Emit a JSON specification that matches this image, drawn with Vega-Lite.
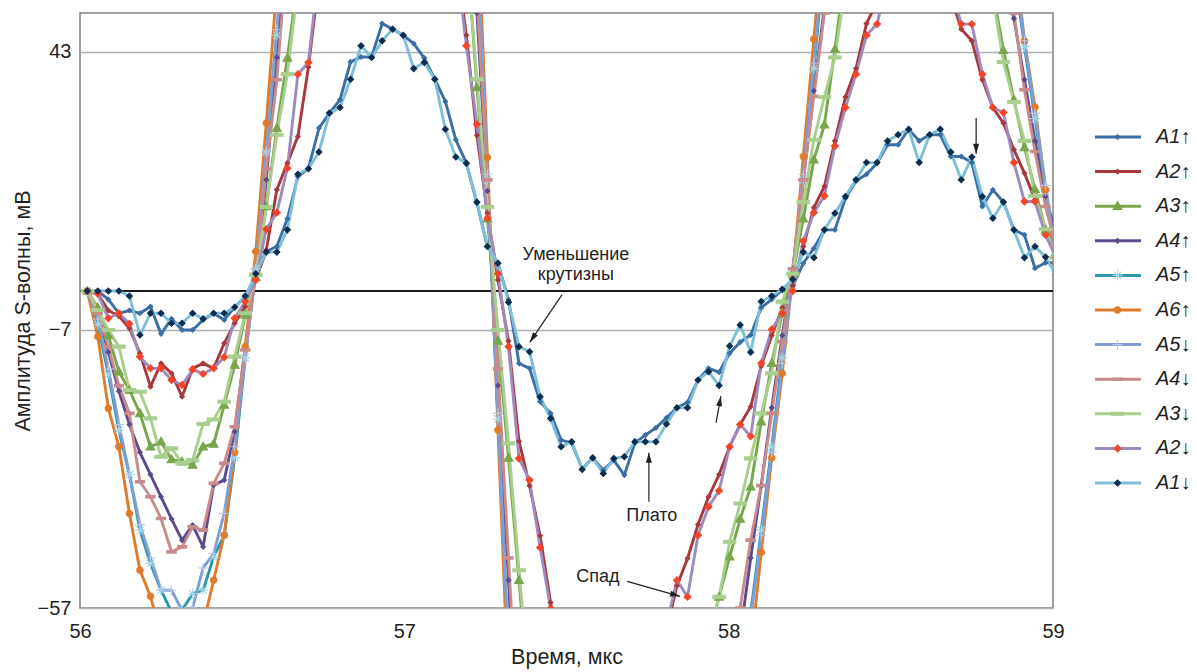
{
"$schema": "https://vega.github.io/schema/vega-lite/v6.json",
"width": 973, "height": 595,
"autosize": {"type": "none"},
"padding": {"left": 80, "top": 13, "right": 144, "bottom": 64},
"background": "white",
"config": {
  "view": {"stroke": "#808080", "strokeWidth": 1.5},
  "font": "Liberation Sans",
  "axis": {"labelFont": "Liberation Sans", "titleFont": "Liberation Sans", "labelFontSize": 20, "titleFontSize": 21.5, "titleFontWeight": "normal", "labelColor": "#231f20", "titleColor": "#231f20"}
},
"datasets": {
"w": [
{"t":56.0225,"A1↑":0,"A2↑":0,"A3↑":0,"A4↑":0,"A5↑":0,"A6↑":0,"A5↓":0,"A4↓":0,"A3↓":0,"A2↓":0,"A1↓":0},
{"t":56.055,"A1↑":0,"A2↑":-0.5,"A3↑":-3,"A4↑":-4,"A5↑":-6,"A6↑":-8.2,"A5↓":-5,"A4↓":-4,"A3↓":-3.4,"A2↓":-0.5,"A1↓":0},
{"t":56.0874,"A1↑":-1.5,"A2↑":-3.5,"A3↑":-8,"A4↑":-11,"A5↑":-15,"A6↑":-21.1,"A5↓":-14,"A4↓":-10,"A3↓":-7,"A2↓":-4.9,"A1↓":0},
{"t":56.1199,"A1↑":-4,"A2↑":-4.5,"A3↑":-14.5,"A4↑":-18,"A5↑":-25,"A6↑":-28,"A5↓":-24,"A4↓":-17,"A3↓":-10,"A2↓":-4,"A1↓":0},
{"t":56.1524,"A1↑":-3.5,"A2↑":-6.7,"A3↑":-17.8,"A4↑":-24,"A5↑":-33,"A6↑":-40,"A5↓":-33,"A4↓":-22,"A3↓":-17.8,"A2↓":-5.9,"A1↓":-0.9},
{"t":56.1848,"A1↑":-4,"A2↑":-11.2,"A3↑":-22,"A4↑":-29,"A5↑":-43,"A6↑":-50.2,"A5↓":-42,"A4↓":-34.3,"A3↓":-18.1,"A2↓":-11.8,"A1↓":-7.9},
{"t":56.2173,"A1↑":-2.8,"A2↑":-17.2,"A3↑":-28,"A4↑":-33,"A5↑":-49,"A6↑":-54.9,"A5↓":-48,"A4↓":-37,"A3↓":-22.9,"A2↓":-13.9,"A1↓":-4},
{"t":56.2498,"A1↑":-7.7,"A2↑":-13,"A3↑":-27.1,"A4↑":-37,"A5↑":-53.8,"A6↑":-62,"A5↓":-53.8,"A4↓":-40.9,"A3↓":-29.8,"A2↓":-13.9,"A1↓":-4},
{"t":56.2822,"A1↑":-5,"A2↑":-14.8,"A3↑":-30.3,"A4↑":-41,"A5↑":-57.7,"A6↑":-66,"A5↓":-53.8,"A4↓":-46.9,"A3↓":-28.3,"A2↓":-16,"A1↓":-5.8},
{"t":56.3147,"A1↑":-7,"A2↑":-19,"A3↑":-30.7,"A4↑":-44.8,"A5↑":-57.4,"A6↑":-68,"A5↓":-57.4,"A4↓":-46,"A3↓":-30.9,"A2↓":-16.9,"A1↓":-5.8},
{"t":56.3472,"A1↑":-7,"A2↑":-13.9,"A3↑":-31.3,"A4↑":-42.1,"A5↑":-54.4,"A6↑":-66,"A5↓":-57,"A4↓":-42.4,"A3↓":-30.4,"A2↓":-14.1,"A1↓":-4},
{"t":56.3796,"A1↑":-5.2,"A2↑":-13,"A3↑":-28,"A4↑":-46,"A5↑":-53.8,"A6↑":-60,"A5↓":-49.8,"A4↓":-43,"A3↓":-23.9,"A2↓":-14.9,"A1↓":-5},
{"t":56.4121,"A1↑":-4,"A2↑":-13.9,"A3↑":-27.5,"A4↑":-34.9,"A5↑":-47.8,"A6↑":-52,"A5↓":-47.2,"A4↓":-34.6,"A3↓":-23.1,"A2↓":-13.9,"A1↓":-4},
{"t":56.4446,"A1↑":-5.2,"A2↑":-9.4,"A3↑":-20.5,"A4↑":-34,"A5↑":-44,"A6↑":-43.9,"A5↓":-40,"A4↓":-31,"A3↓":-19.9,"A2↓":-11.9,"A1↓":-4},
{"t":56.477,"A1↑":-2.9,"A2↑":-5.8,"A3↑":-13.3,"A4↑":-25.3,"A5↑":-30,"A6↑":-29,"A5↓":-28,"A4↓":-24.4,"A3↓":-11.8,"A2↓":-4.9,"A1↓":-2.9},
{"t":56.5095,"A1↑":-1,"A2↑":-2.8,"A3↑":-4.3,"A4↑":-10,"A5↑":-12,"A6↑":-10,"A5↓":-12,"A4↓":-10.6,"A3↓":-4,"A2↓":-1.9,"A1↓":-0.9},
{"t":56.542,"A1↑":2.5,"A2↑":2,"A3↑":2.5,"A4↑":3,"A5↑":4,"A6↑":7.1,"A5↓":4,"A4↓":3,"A3↓":2.9,"A2↓":2,"A1↓":3.1},
{"t":56.5744,"A1↑":7.1,"A2↑":7.4,"A3↑":15.2,"A4↑":20,"A5↑":25,"A6↑":30.2,"A5↓":25,"A4↓":22,"A3↓":15.1,"A2↓":11.1,"A1↓":7},
{"t":56.6069,"A1↑":8,"A2↑":18.2,"A3↑":29.3,"A4↑":42,"A5↑":46,"A6↑":55,"A5↓":47,"A4↓":38,"A3↓":28.1,"A2↓":14.1,"A1↓":7},
{"t":56.6394,"A1↑":13,"A2↑":23,"A3↑":41.9,"A4↑":62,"A5↑":70,"A6↑":80,"A5↓":70,"A4↓":62,"A3↓":39,"A2↓":22.1,"A1↓":11},
{"t":56.6718,"A1↑":20.6,"A2↑":27.8,"A3↑":56,"A4↑":82,"A5↑":93,"A6↑":105,"A5↓":93,"A4↓":82,"A3↓":55,"A2↓":39,"A1↓":21},
{"t":56.7043,"A1↑":22,"A2↑":40.3,"A3↑":70,"A4↑":100,"A5↑":115,"A6↑":128,"A5↓":115,"A4↓":100,"A3↓":69,"A2↓":41.1,"A1↓":22},
{"t":56.7368,"A1↑":29.3,"A2↑":56,"A3↑":84,"A4↑":117,"A5↑":135,"A6↑":149,"A5↓":135,"A4↓":117,"A3↓":83,"A2↓":58,"A1↓":25},
{"t":56.7692,"A1↑":32,"A2↑":65,"A3↑":97,"A4↑":132,"A5↑":152,"A6↑":167,"A5↓":152,"A4↓":132,"A3↓":96,"A2↓":68,"A1↓":32},
{"t":56.8017,"A1↑":34.4,"A2↑":72,"A3↑":108,"A4↑":145,"A5↑":167,"A6↑":183,"A5↓":167,"A4↓":145,"A3↓":107,"A2↓":75,"A1↓":33},
{"t":56.8342,"A1↑":41.2,"A2↑":80,"A3↑":118,"A4↑":156,"A5↑":180,"A6↑":196,"A5↓":180,"A4↓":156,"A3↓":117,"A2↓":82,"A1↓":38.1},
{"t":56.8666,"A1↑":42.1,"A2↑":86,"A3↑":126,"A4↑":165,"A5↑":190,"A6↑":206,"A5↓":190,"A4↓":165,"A3↓":125,"A2↓":88,"A1↓":44.1},
{"t":56.8991,"A1↑":42.1,"A2↑":90,"A3↑":132,"A4↑":172,"A5↑":197,"A6↑":213,"A5↓":197,"A4↓":172,"A3↓":131,"A2↓":92,"A1↓":42},
{"t":56.9316,"A1↑":48.1,"A2↑":94,"A3↑":136,"A4↑":176,"A5↑":201,"A6↑":217,"A5↓":201,"A4↓":176,"A3↓":135,"A2↓":95,"A1↓":45},
{"t":56.964,"A1↑":47.1,"A2↑":95,"A3↑":137,"A4↑":177,"A5↑":202,"A6↑":218,"A5↓":202,"A4↓":177,"A3↓":136,"A2↓":96,"A1↓":47.1},
{"t":56.9965,"A1↑":46,"A2↑":93,"A3↑":135,"A4↑":175,"A5↑":199,"A6↑":215,"A5↓":199,"A4↓":175,"A3↓":134,"A2↓":94,"A1↓":46},
{"t":57.029,"A1↑":44.5,"A2↑":88,"A3↑":130,"A4↑":170,"A5↑":193,"A6↑":208,"A5↓":193,"A4↓":170,"A3↓":129,"A2↓":89,"A1↓":40},
{"t":57.0614,"A1↑":41.9,"A2↑":82,"A3↑":122,"A4↑":161,"A5↑":183,"A6↑":197,"A5↓":183,"A4↓":161,"A3↓":121,"A2↓":83,"A1↓":41.1},
{"t":57.0939,"A1↑":38.1,"A2↑":75,"A3↑":112,"A4↑":150,"A5↑":170,"A6↑":182,"A5↓":170,"A4↓":150,"A3↓":111,"A2↓":77,"A1↓":38.1},
{"t":57.1264,"A1↑":34.1,"A2↑":68,"A3↑":100,"A4↑":136,"A5↑":153,"A6↑":163,"A5↓":154,"A4↓":136,"A3↓":99,"A2↓":70,"A1↓":29.1},
{"t":57.1588,"A1↑":27.2,"A2↑":60,"A3↑":88,"A4↑":118,"A5↑":132,"A6↑":141,"A5↓":133,"A4↓":120,"A3↓":86,"A2↓":60,"A1↓":24.1},
{"t":57.1913,"A1↑":23,"A2↑":46,"A3↑":63,"A4↑":85,"A5↑":105,"A6↑":115,"A5↓":106,"A4↓":88,"A3↓":62,"A2↓":44.1,"A1↓":23},
{"t":57.2238,"A1↑":15.8,"A2↑":28,"A3↑":36.6,"A4↑":50,"A5↑":63,"A6↑":70,"A5↓":64,"A4↓":53,"A3↓":38.1,"A2↓":30,"A1↓":16},
{"t":57.2562,"A1↑":8,"A2↑":14,"A3↑":13,"A4↑":18,"A5↑":20,"A6↑":24,"A5↓":21,"A4↓":20,"A3↓":15.1,"A2↓":13.1,"A1↓":8},
{"t":57.2887,"A1↑":5,"A2↑":2,"A3↑":-9,"A4↑":-17,"A5↑":-23,"A6↑":-25,"A5↓":-22,"A4↓":-14,"A3↓":-7,"A2↓":3.1,"A1↓":5},
{"t":57.3212,"A1↑":-1.6,"A2↑":-9,"A3↑":-30,"A4↑":-52,"A5↑":-66,"A6↑":-72,"A5↓":-65,"A4↓":-48,"A3↓":-27.4,"A2↓":-10,"A1↓":-2},
{"t":57.3536,"A1↑":-13,"A2↑":-27,"A3↑":-52,"A4↑":-87,"A5↑":-105,"A6↑":-113,"A5↓":-104,"A4↓":-82,"A3↓":-50.2,"A2↓":-30.1,"A1↓":-10},
{"t":57.3861,"A1↑":-13.9,"A2↑":-35,"A3↑":-75,"A4↑":-112,"A5↑":-135,"A6↑":-145,"A5↓":-134,"A4↓":-110,"A3↓":-72,"A2↓":-34,"A1↓":-10.9},
{"t":57.4186,"A1↑":-19.9,"A2↑":-44,"A3↑":-88,"A4↑":-130,"A5↑":-158,"A6↑":-170,"A5↓":-157,"A4↓":-128,"A3↓":-86,"A2↓":-46.1,"A1↓":-19},
{"t":57.451,"A1↑":-22,"A2↑":-56,"A3↑":-98,"A4↑":-144,"A5↑":-175,"A6↑":-188,"A5↓":-174,"A4↓":-142,"A3↓":-97,"A2↓":-57.1,"A1↓":-22.9},
{"t":57.4835,"A1↑":-26.8,"A2↑":-68,"A3↑":-106,"A4↑":-155,"A5↑":-188,"A6↑":-201,"A5↓":-187,"A4↓":-153,"A3↓":-105,"A2↓":-68,"A1↓":-28},
{"t":57.516,"A1↑":-27.3,"A2↑":-75,"A3↑":-112,"A4↑":-163,"A5↑":-196,"A6↑":-210,"A5↓":-195,"A4↓":-161,"A3↓":-111,"A2↓":-75,"A1↓":-27.1},
{"t":57.5484,"A1↑":-32,"A2↑":-80,"A3↑":-116,"A4↑":-168,"A5↑":-200,"A6↑":-214,"A5↓":-199,"A4↓":-166,"A3↓":-115,"A2↓":-80,"A1↓":-32.1},
{"t":57.5809,"A1↑":-30,"A2↑":-82,"A3↑":-118,"A4↑":-170,"A5↑":-201,"A6↑":-215,"A5↓":-200,"A4↓":-168,"A3↓":-117,"A2↓":-83,"A1↓":-30},
{"t":57.6134,"A1↑":-32.2,"A2↑":-83,"A3↑":-118,"A4↑":-170,"A5↑":-199,"A6↑":-213,"A5↓":-198,"A4↓":-168,"A3↓":-117,"A2↓":-84,"A1↓":-32.8},
{"t":57.6458,"A1↑":-30.4,"A2↑":-82,"A3↑":-116,"A4↑":-167,"A5↑":-194,"A6↑":-207,"A5↓":-193,"A4↓":-165,"A3↓":-115,"A2↓":-83,"A1↓":-30.1},
{"t":57.6783,"A1↑":-33.1,"A2↑":-80,"A3↑":-112,"A4↑":-161,"A5↑":-186,"A6↑":-198,"A5↓":-185,"A4↓":-159,"A3↓":-111,"A2↓":-81,"A1↓":-29.8},
{"t":57.7108,"A1↑":-27.3,"A2↑":-77,"A3↑":-106,"A4↑":-153,"A5↑":-175,"A6↑":-186,"A5↓":-174,"A4↓":-151,"A3↓":-105,"A2↓":-77,"A1↓":-27.1},
{"t":57.7432,"A1↑":-25.9,"A2↑":-72,"A3↑":-99,"A4↑":-143,"A5↑":-162,"A6↑":-172,"A5↓":-161,"A4↓":-141,"A3↓":-98,"A2↓":-71,"A1↓":-27.1},
{"t":57.7757,"A1↑":-24.6,"A2↑":-66,"A3↑":-91,"A4↑":-131,"A5↑":-147,"A6↑":-156,"A5↓":-146,"A4↓":-129,"A3↓":-90,"A2↓":-65,"A1↓":-27.1},
{"t":57.8082,"A1↑":-22.8,"A2↑":-61,"A3↑":-83,"A4↑":-118,"A5↑":-131,"A6↑":-139,"A5↓":-130,"A4↓":-116,"A3↓":-82,"A2↓":-60,"A1↓":-23.9},
{"t":57.8406,"A1↑":-21,"A2↑":-53,"A3↑":-76,"A4↑":-105,"A5↑":-116,"A6↑":-123,"A5↓":-115,"A4↓":-103,"A3↓":-75,"A2↓":-52,"A1↓":-21},
{"t":57.8731,"A1↑":-20,"A2↑":-48.1,"A3↑":-70,"A4↑":-94,"A5↑":-104,"A6↑":-110,"A5↓":-103,"A4↓":-92,"A3↓":-70,"A2↓":-55,"A1↓":-21},
{"t":57.9056,"A1↑":-16,"A2↑":-42,"A3↑":-66,"A4↑":-86,"A5↑":-95,"A6↑":-100,"A5↓":-94,"A4↓":-84,"A3↓":-66,"A2↓":-43.9,"A1↓":-16},
{"t":57.938,"A1↑":-13.9,"A2↑":-37,"A3↑":-62,"A4↑":-80,"A5↑":-88,"A6↑":-92,"A5↓":-87,"A4↓":-78,"A3↓":-63,"A2↓":-38.8,"A1↓":-14.5},
{"t":57.9705,"A1↑":-14.6,"A2↑":-33,"A3↑":-55,"A4↑":-74,"A5↑":-82,"A6↑":-86,"A5↓":-81,"A4↓":-73,"A3↓":-55,"A2↓":-35.9,"A1↓":-17},
{"t":58.003,"A1↑":-11.2,"A2↑":-28,"A3↑":-47.8,"A4↑":-68,"A5↑":-77,"A6↑":-81,"A5↓":-77,"A4↓":-68,"A3↓":-45.1,"A2↓":-28,"A1↓":-9.9},
{"t":58.0354,"A1↑":-9.2,"A2↑":-24,"A3↑":-41,"A4↑":-62,"A5↑":-72,"A6↑":-76,"A5↓":-73,"A4↓":-57,"A3↓":-38.2,"A2↓":-24,"A1↓":-6.1},
{"t":58.0679,"A1↑":-7.9,"A2↑":-20.8,"A3↑":-35.2,"A4↑":-48,"A5↑":-58,"A6↑":-65,"A5↓":-59,"A4↓":-44.8,"A3↓":-30.1,"A2↓":-26.1,"A1↓":-11},
{"t":58.1004,"A1↑":-3,"A2↑":-13.5,"A3↑":-23.5,"A4↑":-35,"A5↑":-43,"A6↑":-47,"A5↓":-44,"A4↓":-35,"A3↓":-22,"A2↓":-13,"A1↓":-1.9},
{"t":58.1328,"A1↑":-1.5,"A2↑":-8,"A3↑":-13,"A4↑":-21,"A5↑":-28,"A6↑":-30,"A5↓":-29,"A4↓":-22,"A3↓":-14.8,"A2↓":-6.9,"A1↓":-0.9},
{"t":58.1653,"A1↑":0.2,"A2↑":-3,"A3↑":-4,"A4↑":-8,"A5↑":-12,"A6↑":-14.8,"A5↓":-13,"A4↓":-9.1,"A3↓":-1.9,"A2↓":-4,"A1↓":0.3},
{"t":58.1978,"A1↑":0.9,"A2↑":1,"A3↑":3,"A4↑":4,"A5↑":3,"A6↑":3,"A5↓":3,"A4↓":4,"A3↓":3.1,"A2↓":0,"A1↓":2.1},
{"t":58.2302,"A1↑":5,"A2↑":8,"A3↑":13,"A4↑":20,"A5↑":20,"A6↑":24.2,"A5↓":21,"A4↓":20,"A3↓":16,"A2↓":9,"A1↓":7},
{"t":58.2627,"A1↑":7.7,"A2↑":15,"A3↑":23.6,"A4↑":36,"A5↑":40,"A6↑":45.3,"A5↓":41,"A4↓":35,"A3↓":27.2,"A2↓":14.1,"A1↓":6},
{"t":58.2952,"A1↑":11,"A2↑":18.8,"A3↑":29.9,"A4↑":51,"A5↑":60,"A6↑":66,"A5↓":62,"A4↓":50,"A3↓":34.9,"A2↓":17.1,"A1↓":11},
{"t":58.3276,"A1↑":11,"A2↑":27,"A3↑":43.5,"A4↑":65,"A5↑":78,"A6↑":86,"A5↓":80,"A4↓":63,"A3↓":42,"A2↓":26.1,"A1↓":14},
{"t":58.3601,"A1↑":16.7,"A2↑":34.9,"A3↑":58,"A4↑":80,"A5↑":95,"A6↑":104,"A5↓":97,"A4↓":78,"A3↓":55,"A2↓":33,"A1↓":17},
{"t":58.3926,"A1↑":19.8,"A2↑":40,"A3↑":70,"A4↑":93,"A5↑":110,"A6↑":120,"A5↓":112,"A4↓":91,"A3↓":68,"A2↓":39,"A1↓":20},
{"t":58.425,"A1↑":21,"A2↑":48.1,"A3↑":80,"A4↑":104,"A5↑":123,"A6↑":134,"A5↓":125,"A4↓":102,"A3↓":78,"A2↓":46,"A1↓":23.1},
{"t":58.4575,"A1↑":23,"A2↑":52,"A3↑":88,"A4↑":113,"A5↑":134,"A6↑":146,"A5↓":136,"A4↓":111,"A3↓":86,"A2↓":48,"A1↓":23.1},
{"t":58.49,"A1↑":26.3,"A2↑":56,"A3↑":94,"A4↑":120,"A5↑":142,"A6↑":155,"A5↓":144,"A4↓":118,"A3↓":92,"A2↓":56,"A1↓":27},
{"t":58.5224,"A1↑":26.3,"A2↑":59,"A3↑":98,"A4↑":125,"A5↑":148,"A6↑":161,"A5↓":150,"A4↓":123,"A3↓":96,"A2↓":60,"A1↓":28.1},
{"t":58.5549,"A1↑":29.1,"A2↑":61,"A3↑":100,"A4↑":128,"A5↑":151,"A6↑":165,"A5↓":153,"A4↓":126,"A3↓":98,"A2↓":62,"A1↓":29.1},
{"t":58.5874,"A1↑":27,"A2↑":62,"A3↑":100,"A4↑":129,"A5↑":152,"A6↑":166,"A5↓":154,"A4↓":127,"A3↓":98,"A2↓":63,"A1↓":23.1},
{"t":58.6198,"A1↑":28.1,"A2↑":61,"A3↑":98,"A4↑":127,"A5↑":150,"A6↑":164,"A5↓":152,"A4↓":125,"A3↓":96,"A2↓":62,"A1↓":28.1},
{"t":58.6523,"A1↑":28.1,"A2↑":58,"A3↑":94,"A4↑":123,"A5↑":145,"A6↑":159,"A5↓":147,"A4↓":121,"A3↓":92,"A2↓":60,"A1↓":29.1},
{"t":58.6848,"A1↑":24.2,"A2↑":53,"A3↑":88,"A4↑":116,"A5↑":137,"A6↑":151,"A5↓":139,"A4↓":114,"A3↓":86,"A2↓":55,"A1↓":25},
{"t":58.7172,"A1↑":24.2,"A2↑":47.1,"A3↑":80,"A4↑":107,"A5↑":126,"A6↑":140,"A5↓":128,"A4↓":105,"A3↓":78,"A2↓":48,"A1↓":20},
{"t":58.7497,"A1↑":23.1,"A2↑":45,"A3↑":72,"A4↑":96,"A5↑":113,"A6↑":126,"A5↓":115,"A4↓":94,"A3↓":70,"A2↓":48,"A1↓":24.1},
{"t":58.7822,"A1↑":15.2,"A2↑":38,"A3↑":63,"A4↑":84,"A5↑":98,"A6↑":110,"A5↓":100,"A4↓":82,"A3↓":62,"A2↓":39,"A1↓":17},
{"t":58.8146,"A1↑":18.2,"A2↑":33,"A3↑":54,"A4↑":72,"A5↑":84,"A6↑":94,"A5↓":86,"A4↓":71,"A3↓":53,"A2↓":33,"A1↓":13.1},
{"t":58.8471,"A1↑":16,"A2↑":30.2,"A3↑":43.3,"A4↑":58,"A5↑":72,"A6↑":79,"A5↓":73,"A4↓":60,"A3↓":41.2,"A2↓":32.1,"A1↓":16},
{"t":58.8796,"A1↑":11,"A2↑":25.4,"A3↑":34.4,"A4↑":49,"A5↑":58,"A6↑":62,"A5↓":59,"A4↓":50,"A3↓":34,"A2↓":23.1,"A1↓":11},
{"t":58.912,"A1↑":10.1,"A2↑":21.2,"A3↑":25.8,"A4↑":38,"A5↑":44,"A6↑":45,"A5↓":45,"A4↓":36.2,"A3↓":27,"A2↓":16.1,"A1↓":6},
{"t":58.9445,"A1↑":4.1,"A2↑":16.4,"A3↑":18.3,"A4↑":27,"A5↑":31,"A6↑":33.1,"A5↓":32,"A4↓":25.1,"A3↓":17.1,"A2↓":16.1,"A1↓":8},
{"t":58.977,"A1↑":5.1,"A2↑":11,"A3↑":11,"A4↑":17,"A5↑":18,"A6↑":18.2,"A5↓":19,"A4↓":15.2,"A3↓":11.1,"A2↓":10.1,"A1↓":6.1},
{"t":59.0094,"A1↑":5.1,"A2↑":8,"A3↑":7,"A4↑":10,"A5↑":6,"A6↑":5,"A5↓":6,"A4↓":8,"A3↓":6,"A2↓":6,"A1↓":2.9}
],
"ann": [
{"id":"a1","t":57.486,"v":-0.7,"t2":57.387,"v2":-9.2},
{"id":"a2","t":57.754,"v":-37.9,"t2":57.754,"v2":-29.1},
{"id":"a3","t":57.961,"v":-23.7,"t2":57.976,"v2":-18.9},
{"id":"a4","t":57.687,"v":-52.2,"t2":57.85,"v2":-54.9},
{"id":"a5","t":58.763,"v":31.1,"t2":58.763,"v2":24.7}
],
"txt": [
{"t":57.529,"v":6.5,"label":"Уменьшение"},
{"t":57.529,"v":2.9,"label":"крутизны"},
{"t":57.763,"v":-40.5,"label":"Плато"},
{"t":57.597,"v":-51.4,"label":"Спад"}
]
},
"layer": [
{
 "data": {"name": "w"},
 "mark": {"type": "rule", "color": "#1a1a1a", "strokeWidth": 2},
 "encoding": {"y": {"datum": 0, "type": "quantitative", "scale": {"domain": [-57, 50], "nice": false, "zero": false}}}
},
{
 "data": {"name": "w"},
 "transform": [{"fold": ["A1↑","A2↑","A3↑","A4↑","A5↑","A6↑","A5↓","A4↓","A3↓","A2↓","A1↓"], "as": ["s", "v"]}],
 "mark": {"type": "line", "strokeWidth": 2.9, "clip": true, "strokeJoin": "round"},
 "encoding": {
  "x": {"field": "t", "type": "quantitative", "scale": {"domain": [56, 59], "nice": false, "zero": false},
        "axis": {"title": "Время, мкс", "values": [56,57,58,59], "format": "d", "grid": false, "ticks": false, "domain": false, "labelPadding": 13, "titlePadding": 5, "labelFlush": false}},
  "y": {"field": "v", "type": "quantitative", "scale": {"domain": [-57, 50], "nice": false, "zero": false},
        "axis": {"title": "Амплитуда S-волны, мВ", "values": [-57,-7,43], "grid": true, "gridColor": "#b0b0b0", "gridWidth": 1.3, "ticks": false, "domain": false, "labelPadding": 9, "titlePadding": 3}},
  "color": {"field": "s", "type": "nominal",
   "scale": {"domain": ["A1↑","A2↑","A3↑","A4↑","A5↑","A6↑","A5↓","A4↓","A3↓","A2↓","A1↓"],
             "range": ["#3b6ea5","#a8383b","#78a64a","#5c4a8c","#2a97ad","#e07b2c","#7f9fd4","#c98a8b","#a8cf8e","#9d8bc0","#7cbfd6"]},
   "legend": {"orient": "none", "legendX": 1013.5, "legendY": 114, "title": null, "padding": 0, "symbolType": "stroke", "symbolSize": 2116, "symbolStrokeWidth": 3, "clipHeight": 20, "rowPadding": 14.6, "labelFontSize": 20, "labelFont": "Liberation Sans", "labelFontStyle": "italic", "labelOffset": 13.5, "labelColor": "#231f20", "labelLimit": 200}}
 }
},
{
 "data": {"name": "w"},
 "transform": [{"fold": ["A1↑","A2↑","A3↑","A4↑","A5↑","A6↑","A5↓","A4↓","A3↓","A2↓","A1↓"], "as": ["s", "v"]}],
 "mark": {"type": "point", "filled": true, "opacity": 1, "size": 2116, "strokeWidth": 1.1, "clip": true},
 "encoding": {
  "x": {"field": "t", "type": "quantitative"},
  "y": {"field": "v", "type": "quantitative"},
  "shape": {"field": "s", "type": "nominal",
   "scale": {"domain": ["A1↓","A2↓","A3↓","A4↓","A5↓","A6↑","A5↑","A4↑","A3↑","A2↑","A1↑"],
             "range": ["M0,-0.13L0.13,0L0,0.13L-0.13,0Z","M0,-0.15L0.15,0L0,0.15L-0.15,0Z","M-0.27,-0.065H0.27V0.065H-0.27Z","M-0.2,-0.055H0.2V0.055H-0.2Z","M-0.22,0H0.22M0,-0.22V0.22","M0.14,0A0.14,0.14,0,1,1,-0.14,0A0.14,0.14,0,1,1,0.14,0Z","M-0.22,0H0.22M0,-0.22V0.22M-0.16,-0.16L0.16,0.16M-0.16,0.16L0.16,-0.16","M0,-0.1L0.1,0L0,0.1L-0.1,0Z","M0,-0.2L0.19,0.14L-0.19,0.14Z","M0,-0.1L0.1,0L0,0.1L-0.1,0Z","M0,-0.1L0.1,0L0,0.1L-0.1,0Z"]},
   "legend": {"orient": "none", "legendX": 1013.5, "legendY": 114, "title": null, "padding": 0, "symbolSize": 2116, "symbolStrokeWidth": 1.1, "clipHeight": 20, "rowPadding": 14.6, "labelFontSize": 20, "labelFont": "Liberation Sans", "labelFontStyle": "italic", "labelOffset": 13.5, "labelOpacity": 0, "labelLimit": 200, "values": ["A1↑","A2↑","A3↑","A4↑","A5↑","A6↑","A5↓","A4↓","A3↓","A2↓","A1↓"]}},
  "fill": {"field": "s", "type": "nominal",
   "scale": {"domain": ["A1↓","A2↓","A3↓","A4↓","A5↓","A6↑","A5↑","A4↑","A3↑","A2↑","A1↑"],
             "range": ["#0c2d50","#f4452a","#a8cf8e","#c98a8b","#b5c8e8","#e07b2c","#9fd6e4","#5c4a8c","#78a64a","#a8383b","#3b6ea5"]},
   "legend": {"orient": "none", "legendX": 1013.5, "legendY": 114, "title": null, "padding": 0, "symbolSize": 2116, "symbolStrokeWidth": 1.1, "clipHeight": 20, "rowPadding": 14.6, "labelFontSize": 20, "labelFont": "Liberation Sans", "labelFontStyle": "italic", "labelOffset": 13.5, "labelOpacity": 0, "labelLimit": 200, "values": ["A1↑","A2↑","A3↑","A4↑","A5↑","A6↑","A5↓","A4↓","A3↓","A2↓","A1↓"]}},
  "stroke": {"field": "s", "type": "nominal",
   "scale": {"domain": ["A1↓","A2↓","A3↓","A4↓","A5↓","A6↑","A5↑","A4↑","A3↑","A2↑","A1↑"],
             "range": ["#0c2d50","#f4452a","#a8cf8e","#c98a8b","#b5c8e8","#e07b2c","#9fd6e4","#5c4a8c","#78a64a","#a8383b","#3b6ea5"]},
   "legend": {"orient": "none", "legendX": 1013.5, "legendY": 114, "title": null, "padding": 0, "symbolSize": 2116, "symbolStrokeWidth": 1.1, "clipHeight": 20, "rowPadding": 14.6, "labelFontSize": 20, "labelFont": "Liberation Sans", "labelFontStyle": "italic", "labelOffset": 13.5, "labelOpacity": 0, "labelLimit": 200, "values": ["A1↑","A2↑","A3↑","A4↑","A5↑","A6↑","A5↓","A4↓","A3↓","A2↓","A1↓"]}}
 }
},
{
 "data": {"name": "ann"},
 "mark": {"type": "rule", "color": "#231f20", "strokeWidth": 1.2},
 "encoding": {
  "x": {"field": "t", "type": "quantitative"},
  "y": {"field": "v", "type": "quantitative"},
  "x2": {"field": "t2"},
  "y2": {"field": "v2"}
 }
},
{
 "data": {"name": "ann"},
 "mark": {"type": "point", "shape": "M0,0L0.3,1L-0.3,1Z", "size": 400, "filled": true, "opacity": 1, "color": "#231f20"},
 "encoding": {
  "x": {"field": "t2", "type": "quantitative"},
  "y": {"field": "v2", "type": "quantitative"},
  "angle": {"condition": [{"test": "datum.id === 'a1'", "value": 214}, {"test": "datum.id === 'a3'", "value": 10.5}, {"test": "datum.id === 'a4'", "value": 106}, {"test": "datum.id === 'a5'", "value": 180}], "value": 0}
 }
},
{
 "data": {"name": "txt"},
 "mark": {"type": "text", "font": "Liberation Sans", "fontSize": 18, "color": "#231f20", "align": "center", "baseline": "middle"},
 "encoding": {
  "x": {"field": "t", "type": "quantitative"},
  "y": {"field": "v", "type": "quantitative"},
  "text": {"field": "label"}
 }
}
]
}
